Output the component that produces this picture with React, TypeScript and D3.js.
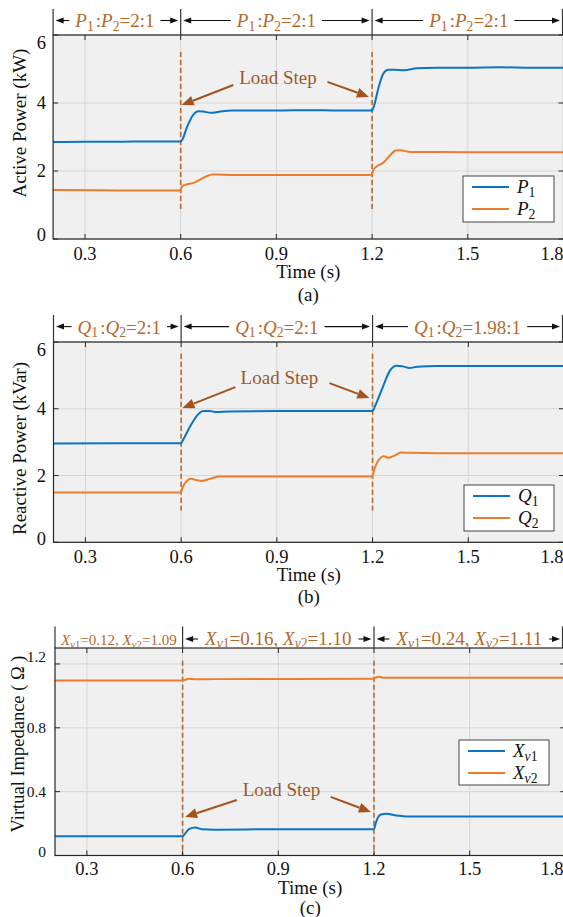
import React, { useLayoutEffect, useRef, useState } from 'react';
import * as d3 from 'd3';

type Pt = [number, number];
type Seg = { s: string; i?: boolean; sub?: boolean; dx?: number };

// ---------- data ----------
const TIME_TICKS = [0.3, 0.6, 0.9, 1.2, 1.5, 1.8];
const STEP_TIMES = [0.6, 1.2];
const POWER_TICKS = [0, 2, 4, 6];
const IMPEDANCE_TICKS = [0, 0.4, 0.8, 1.2];
const IMPEDANCE_LABELS = ['0', '0.4', '0.8', '1.2'];
const POWER_LABELS = ['0', '2', '4', '6'];

const P1: Pt[] = [
  [0.2, 2.85], [0.3, 2.86], [0.4, 2.86], [0.5, 2.87], [0.6, 2.87], [0.605, 2.92], [0.62, 3.3],
  [0.64, 3.66], [0.655, 3.76], [0.67, 3.75], [0.695, 3.71], [0.72, 3.74], [0.76, 3.78],
  [0.9, 3.78], [1.0, 3.79], [1.1, 3.78], [1.2, 3.78], [1.205, 3.88], [1.22, 4.45],
  [1.235, 4.86], [1.25, 4.98], [1.27, 4.98], [1.3, 4.96], [1.34, 5.02], [1.4, 5.04],
  [1.5, 5.04], [1.6, 5.05], [1.7, 5.04], [1.8, 5.04],
];
const P2: Pt[] = [
  [0.2, 1.44], [0.4, 1.43], [0.6, 1.43], [0.603, 1.53], [0.615, 1.6], [0.64, 1.65],
  [0.66, 1.74], [0.68, 1.84], [0.7, 1.9], [0.73, 1.89], [0.8, 1.88], [1.0, 1.88], [1.2, 1.88],
  [1.203, 2.02], [1.215, 2.14], [1.235, 2.24], [1.255, 2.45], [1.275, 2.6], [1.29, 2.61],
  [1.32, 2.56], [1.4, 2.56], [1.6, 2.55], [1.8, 2.55],
];
const Q1: Pt[] = [
  [0.2, 2.96], [0.4, 2.97], [0.6, 2.97], [0.605, 3.05], [0.63, 3.5], [0.655, 3.85],
  [0.67, 3.93], [0.69, 3.93], [0.71, 3.9], [0.75, 3.92], [0.9, 3.93], [1.2, 3.93],
  [1.205, 4.02], [1.23, 4.6], [1.255, 5.15], [1.275, 5.29], [1.295, 5.27], [1.315, 5.22],
  [1.34, 5.26], [1.4, 5.28], [1.6, 5.28], [1.8, 5.28],
];
const Q2: Pt[] = [
  [0.2, 1.49], [0.4, 1.49], [0.6, 1.49], [0.603, 1.6], [0.615, 1.8], [0.63, 1.9],
  [0.65, 1.86], [0.665, 1.84], [0.69, 1.9], [0.72, 1.97], [0.8, 1.97], [1.2, 1.97],
  [1.203, 2.1], [1.215, 2.4], [1.235, 2.58], [1.25, 2.53], [1.265, 2.58], [1.29, 2.69],
  [1.32, 2.68], [1.4, 2.67], [1.8, 2.67],
];
const XV1: Pt[] = [
  [0.2, 0.12], [0.4, 0.12], [0.6, 0.12], [0.605, 0.13], [0.62, 0.165], [0.64, 0.175],
  [0.66, 0.165], [0.7, 0.162], [0.9, 0.165], [1.2, 0.165], [1.205, 0.2], [1.22, 0.255],
  [1.24, 0.262], [1.27, 0.25], [1.3, 0.245], [1.5, 0.245], [1.8, 0.245],
];
const XV2: Pt[] = [
  [0.2, 1.097], [0.4, 1.097], [0.6, 1.097], [0.61, 1.102], [0.62, 1.107], [0.64, 1.104],
  [0.7, 1.105], [1.2, 1.107], [1.205, 1.115], [1.215, 1.12], [1.23, 1.113], [1.3, 1.113],
  [1.8, 1.113],
];

const ratio = (a: string, tail: string): Seg[] => [
  { s: a, i: true }, { s: '1', sub: true }, { s: ':', dx: 2 }, { s: a, i: true }, { s: '2', sub: true }, { s: tail },
];
const RATIO_P = ratio('P', '=2:1');
const RATIO_Q = ratio('Q', '=2:1');
const RATIO_Q3 = ratio('Q', '=1.98:1');
const xv = (a: string, b: string): Seg[] => [
  { s: 'X', i: true }, { s: 'v', i: true, sub: true }, { s: '1', sub: true }, { s: '=' + a + ', ' },
  { s: 'X', i: true }, { s: 'v', i: true, sub: true }, { s: '2', sub: true }, { s: '=' + b },
];
const LEG_P: Seg[][] = [[{ s: 'P', i: true }, { s: '1', sub: true }], [{ s: 'P', i: true }, { s: '2', sub: true }]];
const LEG_Q: Seg[][] = [[{ s: 'Q', i: true }, { s: '1', sub: true }], [{ s: 'Q', i: true }, { s: '2', sub: true }]];
const LEG_X: Seg[][] = [
  [{ s: 'X', i: true }, { s: 'v', i: true, sub: true }, { s: '1', sub: true }],
  [{ s: 'X', i: true }, { s: 'v', i: true, sub: true }, { s: '2', sub: true }],
];

// ---------- style ----------
const FONT = '"Liberation Serif", "Times New Roman", serif';
const BLUE = '#0b74c4';
const ORANGE = '#ec7d2c';
const BROWN_TXT = '#b5692b';
const BROWN_ARROW = '#a4531e';
const BROWN_DASH = '#b26a33';
const AXIS = '#262626';

function Rich({ segs, size, x, y, anchor = 'start', fill = '#111', tref }: any) {
  const subSize = size * 0.72;
  const shift = size * 0.2;
  let cur = 0;
  const kids = segs.map((g: Seg, k: number) => {
    const target = g.sub ? shift : 0;
    const dy = target - cur;
    cur = target;
    return (
      <tspan key={k} dy={dy || undefined} dx={g.dx} fontStyle={g.i ? 'italic' : 'normal'} fontSize={g.sub ? subSize : size}>
        {g.s}
      </tspan>
    );
  });
  return (
    <text ref={tref} x={x} y={y} textAnchor={anchor} fill={fill} fontFamily={FONT} fontSize={size} style={{ whiteSpace: 'pre' }}>
      {kids}
    </text>
  );
}

function hArrow(x0: number, x1: number, y: number, key: string) {
  const dir = Math.sign(x1 - x0);
  const L = 8, H = 3;
  return (
    <g key={key}>
      <line x1={x0} y1={y} x2={x1 - dir * L * 0.6} y2={y} stroke="#111" strokeWidth={1.1} />
      <path d={`M${x1},${y} L${x1 - dir * L},${y - H} L${x1 - dir * L},${y + H} Z`} fill="#111" />
    </g>
  );
}

function brownArrow(x0: number, y0: number, x1: number, y1: number, key: string) {
  const ang = Math.atan2(y1 - y0, x1 - x0);
  const L = 12, H = 5;
  const bx = x1 - L * Math.cos(ang), by = y1 - L * Math.sin(ang);
  const px = -Math.sin(ang) * H, py = Math.cos(ang) * H;
  return (
    <g key={key}>
      <line x1={x0} y1={y0} x2={bx} y2={by} stroke={BROWN_ARROW} strokeWidth={2} />
      <path d={`M${x1},${y1} L${bx + px},${by + py} L${bx - px},${by - py} Z`} fill={BROWN_ARROW} />
    </g>
  );
}

function Panel({ cfg }: any) {
  const x = d3.scaleLinear().domain([0.2, 1.8]).range([cfg.left, cfg.right]);
  const y = d3.scaleLinear().domain(cfg.yDomain).range([cfg.bottom, cfg.top]);
  const line = d3.line<Pt>().x((d) => x(d[0])).y((d) => y(d[1])).curve(d3.curveMonotoneX);
  const refs = useRef<any[]>([]);
  const [widths, setWidths] = useState<number[]>([]);
  useLayoutEffect(() => {
    setWidths(refs.current.map((r) => (r ? r.getComputedTextLength() : 0)));
  }, []);
  const W = 563;
  const bounds = [x(0.2), x(STEP_TIMES[0]), x(STEP_TIMES[1]), Math.min(x(1.8), W - 0.5)];
  const clipId = 'clip' + cfg.id;
  return (
    <g>
      <defs>
        <clipPath id={clipId}>
          <rect x={cfg.left} y={cfg.top} width={cfg.right - cfg.left} height={cfg.bottom - cfg.top} />
        </clipPath>
      </defs>
      <rect x={cfg.left} y={cfg.top} width={cfg.right - cfg.left} height={cfg.bottom - cfg.top} fill="#f0f0f0" />
      {TIME_TICKS.map((t) => (
        <line key={'gx' + t} x1={x(t)} x2={x(t)} y1={cfg.top} y2={cfg.bottom} stroke="#d6d6d6" strokeWidth={1} />
      ))}
      {cfg.yTicks.map((v: number, k: number) => (
        <line key={'gy' + k} x1={cfg.left} x2={cfg.right} y1={y(v)} y2={y(v)} stroke="#d6d6d6" strokeWidth={1} />
      ))}
      {STEP_TIMES.map((t) => (
        <line key={'ds' + t} x1={x(t)} x2={x(t)} y1={y(cfg.dash[1])} y2={y(cfg.dash[0])} stroke={BROWN_DASH} strokeWidth={1.6} strokeDasharray="5,3" />
      ))}
      <g clipPath={`url(#${clipId})`}>
        <path d={line(cfg.s1) || ''} fill="none" stroke={BLUE} strokeWidth={2} />
        <path d={line(cfg.s2) || ''} fill="none" stroke={ORANGE} strokeWidth={2} />
      </g>
      <rect x={cfg.left} y={cfg.top} width={cfg.right - cfg.left} height={cfg.bottom - cfg.top} fill="none" stroke={AXIS} strokeWidth={1.2} />
      {TIME_TICKS.map((t) => (
        <g key={'tx' + t}>
          <line x1={x(t)} x2={x(t)} y1={cfg.bottom} y2={cfg.bottom - 5} stroke={AXIS} />
          <line x1={x(t)} x2={x(t)} y1={cfg.top} y2={cfg.top + 5} stroke={AXIS} />
          <text x={Math.min(x(t), 552)} y={cfg.bottom + cfg.tickDy} textAnchor="middle" fontFamily={FONT} fontSize={18.5} fill="#111">
            {t.toFixed(1)}
          </text>
        </g>
      ))}
      {cfg.yTicks.map((v: number, k: number) => (
        <g key={'ty' + k}>
          <line x1={cfg.left} x2={cfg.left + 5} y1={y(v)} y2={y(v)} stroke={AXIS} />
          <line x1={cfg.right} x2={cfg.right - 5} y1={y(v)} y2={y(v)} stroke={AXIS} />
        </g>
      ))}
      <text transform={`translate(${cfg.yLabelX},${cfg.yLabelY}) rotate(-90)`} textAnchor="middle" fontFamily={FONT} fontSize={cfg.yLabelSize} fill="#111" style={{ whiteSpace: 'pre' }}>
        {cfg.yLabel}
      </text>
      {cfg.yTickLabels.map((lab: string, k: number) => (
        <text
          key={'tl' + k}
          x={46}
          y={y(cfg.yTicks[k]) + (cfg.yNudge[k] || 0) + cfg.yTickSize * 0.35}
          textAnchor="end"
          fontFamily={FONT}
          fontSize={cfg.yTickSize}
          fill="#111"
        >
          {lab}
        </text>
      ))}
      <text x={(cfg.left + cfg.right) / 2} y={cfg.bottom + cfg.timeDy} textAnchor="middle" fontFamily={FONT} fontSize={19} fill="#111">
        Time (s)
      </text>
      <text x={(cfg.left + cfg.right) / 2} y={cfg.bottom + cfg.letterDy} textAnchor="middle" fontFamily={FONT} fontSize={19} fill="#111">
        {cfg.letter}
      </text>
      {bounds.map((bx, k) => (
        <line key={'br' + k} x1={bx} x2={bx} y1={cfg.bracketTop} y2={cfg.top} stroke="#333" strokeWidth={1.2} />
      ))}
      {cfg.ann.map((a: any, k: number) => {
        const x0 = bounds[k], x1 = bounds[k + 1];
        const cx = (x0 + x1) / 2 + (a.dx || 0);
        const w = widths[k] || 0;
        return (
          <g key={'an' + k}>
            <Rich tref={(el: any) => (refs.current[k] = el)} segs={a.segs} size={a.size} x={cx} y={cfg.textBase} anchor="middle" fill={BROWN_TXT} />
            {a.arrows && w > 0 && [
              hArrow(cx - w / 2 - 7, x0 + 2.5, cfg.arrowY, 'l'),
              hArrow(cx + w / 2 + 7, x1 - 2.5, cfg.arrowY, 'r'),
            ]}
          </g>
        );
      })}
      <text x={x(cfg.ls.text[0])} y={y(cfg.ls.text[1])} dy="0.35em" textAnchor="middle" fontFamily={FONT} fontSize={19} fill="#9c5a2a">
        Load Step
      </text>
      {brownArrow(x(cfg.ls.a1[0]), y(cfg.ls.a1[1]), x(cfg.ls.a1[2]), y(cfg.ls.a1[3]), 'a1')}
      {brownArrow(x(cfg.ls.a2[0]), y(cfg.ls.a2[1]), x(cfg.ls.a2[2]), y(cfg.ls.a2[3]), 'a2')}
      <rect x={cfg.leg[0]} y={cfg.leg[1]} width={cfg.leg[2]} height={cfg.leg[3]} fill="#fff" stroke="#444" strokeWidth={1} />
      {cfg.legLabels.map((segs: Seg[], k: number) => (
        <g key={'lg' + k}>
          <line x1={cfg.leg[0] + 9} x2={cfg.leg[0] + 46} y1={cfg.leg[1] + 11 + k * 22} y2={cfg.leg[1] + 11 + k * 22} stroke={k === 0 ? BLUE : ORANGE} strokeWidth={2} />
          <Rich segs={segs} size={19} x={cfg.leg[0] + 54} y={cfg.leg[1] + 17 + k * 22} fill="#111" />
        </g>
      ))}
    </g>
  );
}

const PANELS = [
  {
    id: 'a', left: 53.1, right: 563.5, top: 35, bottom: 239, yDomain: [0, 6], yTicks: POWER_TICKS,
    yTickLabels: POWER_LABELS, yTickSize: 18.5, yNudge: [-4, 0, 0, 8],
    yLabel: 'Active Power (kW)', yLabelX: 26, yLabelY: 123, yLabelSize: 19,
    letter: '(a)', tickDy: 20.5, timeDy: 39, letterDy: 62, s1: P1, s2: P2, dash: [0.85, 5.5],
    bracketTop: 9, arrowY: 20.5, textBase: 27,
    ann: [{ segs: RATIO_P, size: 19, arrows: true, dx: -2 }, { segs: RATIO_P, size: 19, arrows: true }, { segs: RATIO_P, size: 19, arrows: true, dx: 1.5 }],
    ls: { text: [0.905, 4.76], a1: [0.765, 4.53, 0.603, 3.94], a2: [1.06, 4.62, 1.19, 4.18] },
    leg: [463, 176, 91, 46], legLabels: LEG_P,
  },
  {
    id: 'b', left: 53.5, right: 564, top: 342, bottom: 542.3, yDomain: [0, 6], yTicks: POWER_TICKS,
    yTickLabels: POWER_LABELS, yTickSize: 18.5, yNudge: [-4, 0, 0, 8],
    yLabel: 'Reactive Power (kVar)', yLabelX: 26, yLabelY: 448.5, yLabelSize: 19,
    letter: '(b)', tickDy: 20.5, timeDy: 39, letterDy: 61, s1: Q1, s2: Q2, dash: [0.95, 5.65],
    bracketTop: 315, arrowY: 326.6, textBase: 333.5,
    ann: [{ segs: RATIO_Q, size: 19, arrows: true, dx: 2 }, { segs: RATIO_Q, size: 19, arrows: true }, { segs: RATIO_Q3, size: 19, arrows: true }],
    ls: { text: [0.908, 4.95], a1: [0.77, 4.65, 0.604, 4.02], a2: [1.065, 4.77, 1.19, 4.32] },
    leg: [464, 485, 90, 46], legLabels: LEG_Q,
  },
  {
    id: 'c', left: 55, right: 565.4, top: 648, bottom: 855.5, yDomain: [0, 1.3], yTicks: IMPEDANCE_TICKS,
    yTickLabels: IMPEDANCE_LABELS, yTickSize: 15.5, yNudge: [-4, 0, 0, -7],
    yLabel: 'Virtual Impedance ( \u03a9 )', yLabelX: 24, yLabelY: 744, yLabelSize: 18.5,
    letter: '(c)', tickDy: 19, timeDy: 38.5, letterDy: 58, s1: XV1, s2: XV2, dash: [0, 1.22],
    bracketTop: 626.5, arrowY: 639, textBase: 644.5,
    ann: [{ segs: xv('0.12', '1.09'), size: 15, arrows: false }, { segs: xv('0.16', '1.10'), size: 19, arrows: true }, { segs: xv('0.24', '1.11'), size: 19, arrows: true, dx: 1 }],
    ls: { text: [0.91, 0.417], a1: [0.77, 0.348, 0.608, 0.241], a2: [1.064, 0.367, 1.19, 0.273] },
    leg: [459, 740, 90, 45], legLabels: LEG_X,
  },
];

export default function App() {
  return (
    <svg width={563} height={917} style={{ position: 'absolute', left: 0, top: 0, background: '#fff' }}>
      {PANELS.map((p) => (
        <Panel key={p.id} cfg={p} />
      ))}
    </svg>
  );
}
